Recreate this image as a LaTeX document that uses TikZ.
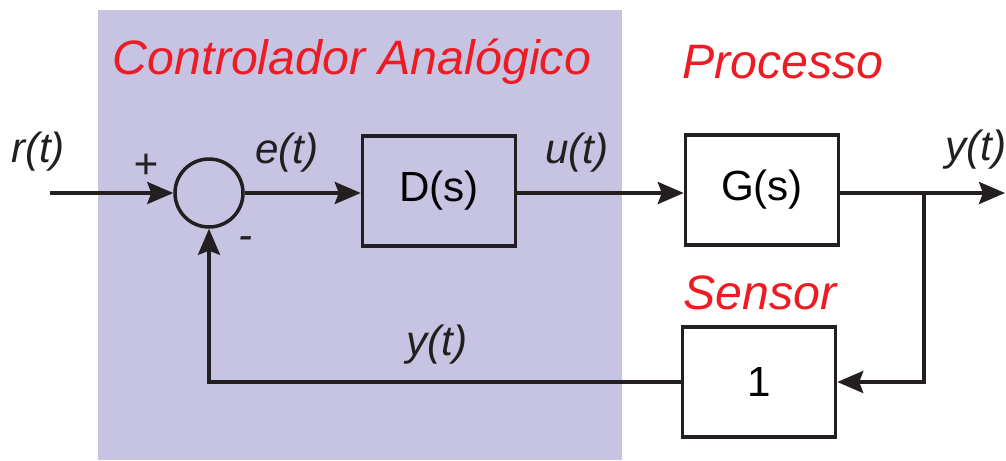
\documentclass[tikz,border=0pt]{standalone}
\usepackage{fontspec}
\setmainfont{Liberation Sans}
\usetikzlibrary{arrows.meta}
\definecolor{LightViolet}{RGB}{198,196,226}
\definecolor{TitleRed}{RGB}{237,28,36}
\definecolor{LineBlack}{RGB}{35,31,32}
\tikzset{
  block/.style={draw=LineBlack, line width=2pt, minimum width=3.06cm, minimum height=2.2cm, inner sep=0pt, font=\fontsize{24}{28}\selectfont},
  sumnode/.style={draw=LineBlack, line width=2pt, circle, minimum size=1.36cm, inner sep=0pt},
  signal/.style={line width=2pt, draw=LineBlack, -{Stealth[length=0.52cm, width=0.44cm, inset=0.08cm]}},
  siglabel/.style={font=\fontsize{24}{28}\selectfont\itshape, text=LineBlack},
  title/.style={font=\fontsize{27.5}{32}\selectfont\itshape, text=TitleRed}
}

\begin{document}
\begin{tikzpicture}[x=0.02cm, y=-0.02cm]
                \useasboundingbox (0,0) rectangle (1006,460);
                \fill[LightViolet] (98,10) rectangle (622,460);

                % blocks
                \node[sumnode] (sum) at (209,193) {};
                \node[block] (D) at (439,191) {D(s)};
                \node[block] (G) at (762,190) {G(s)};
                \node[block] (H) at (759,382) {1};

                \coordinate (in) at (50,193);
                \coordinate (out) at (1005,193);
                \coordinate (split) at (924,193);

                % connections
                \draw[signal] (in) -- (sum.west);
                \draw[signal] (sum.east) -- (D.west |- sum.east);
                \draw[signal] (D.east |- sum.east) -- (G.west |- sum.east);
                \draw[signal] (G.east |- sum.east) -- (out);
                \draw[signal] (split) |- (H.east);
                \draw[signal] (H.west) -| (sum.south);

                % labels
                \node[siglabel] (r) at (38,152) {r(t)};
                \node[siglabel] (plus) at (146,166) {+};
                \node[siglabel] (minus) at (246,243) {-};
                \node[siglabel] (e) at (287,153) {e(t)};
                \node[siglabel] (u) at (577,153) {u(t)};
                \node[siglabel] (y) at (976,150) {y(t)};
                \node[siglabel] (yfb) at (437,345) {y(t)};

                \node[title] (ctrl) at (352,62) {Controlador Analógico};
                \node[title] (proc) at (783,62) {Processo};
                \node[title] (sens) at (760,293) {Sensor};
        \end{tikzpicture}
\end{document}
